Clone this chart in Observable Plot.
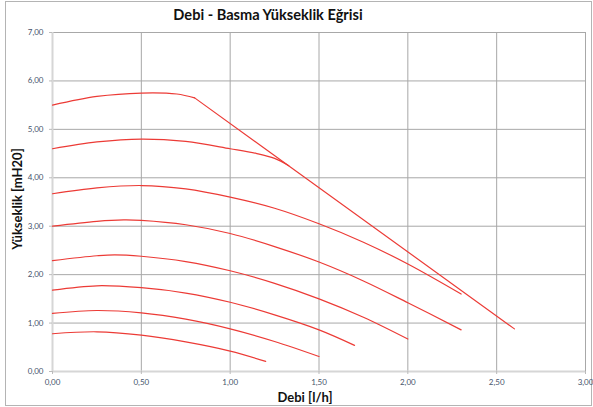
<!DOCTYPE html>
<html>
<head>
<meta charset="utf-8">
<script src="https://cdn.jsdelivr.net/npm/d3@7"></script>
<script src="https://cdn.jsdelivr.net/npm/@observablehq/plot@0.6"></script>
<style>
  body { margin: 0; background: #fff; }
  #wrap { position: relative; width: 593px; height: 407px; overflow: hidden; font-family: Lato, "Open Sans", sans-serif; }
  #frame { position: absolute; left: 5px; top: 1px; width: 587px; height: 405px; border: 1px solid #b4b4b4; box-sizing: border-box; }
  #title { position: absolute; left: 0; top: 3px; width: 536px; text-align: center; font-size: 14.6px; font-weight: bold; color: #111; line-height: 24px; }
  #chart { position: absolute; left: 0; top: 24px; }
</style>
</head>
<body>
<div id="wrap">
  <div id="frame"></div>
  <div id="title"></div>
  <div id="chart"></div>
</div>
<script>
const titleText = "Debi - Basma Yükseklik Eğrisi";
const xLabel = "Debi [l/h]";
const yLabel = "Yükseklik [mH20]";
const xTicks = [0, 0.5, 1, 1.5, 2, 2.5, 3];
const yTicks = [0, 1, 2, 3, 4, 5, 6, 7];

// Pump curves (Debi x, Yükseklik y)
const c1x = [0, 0.25, 0.5, 0.7, 0.8];
const c1y = [5.5, 5.68, 5.75, 5.73, 5.65];
const limX = [0.8, 2.6];
const limY = [5.65, 0.88];
const c2x = [0, 0.25, 0.5, 0.75, 1.0, 1.15, 1.25, 1.33];
const c2y = [4.6, 4.74, 4.8, 4.75, 4.6, 4.5, 4.4, 4.25];
const c3x = [0, 0.25, 0.5, 0.75, 1.0, 1.25, 1.5, 1.75, 2.0, 2.3];
const c3y = [3.67, 3.79, 3.84, 3.77, 3.6, 3.37, 3.05, 2.67, 2.22, 1.6];
const c4x = [0, 0.25, 0.4, 0.5, 0.75, 1.0, 1.25, 1.5, 1.75, 2.0, 2.3];
const c4y = [3.0, 3.1, 3.13, 3.12, 3.03, 2.85, 2.58, 2.26, 1.87, 1.42, 0.86];
const c5x = [0, 0.25, 0.35, 0.5, 0.75, 1.0, 1.25, 1.5, 1.75, 2.0];
const c5y = [2.29, 2.39, 2.41, 2.38, 2.27, 2.08, 1.82, 1.5, 1.12, 0.67];
const c6x = [0, 0.25, 0.5, 0.75, 1.0, 1.25, 1.5, 1.7];
const c6y = [1.68, 1.77, 1.73, 1.62, 1.43, 1.17, 0.86, 0.54];
const c7x = [0, 0.25, 0.5, 0.75, 1.0, 1.25, 1.5];
const c7y = [1.2, 1.26, 1.21, 1.08, 0.88, 0.62, 0.31];
const c8x = [0, 0.25, 0.5, 0.75, 1.0, 1.2];
const c8y = [0.78, 0.82, 0.75, 0.61, 0.42, 0.21];

const curves = [[c1x, c1y], [c2x, c2y], [c3x, c3y], [c4x, c4y], [c5x, c5y], [c6x, c6y], [c7x, c7y], [c8x, c8y]];
const curveData = curves.flatMap(([xs, ys], i) => xs.map((x, j) => ({s: i, x, y: ys[j]})));
const limData = limX.map((x, j) => ({x, y: limY[j]}));

const fmt = d => d3.format(".2f")(d).replace(".", ",");
const red = "#ec3b36";

document.getElementById("title").textContent = titleText;

const chart = Plot.plot({
  width: 593,
  height: 383,
  marginLeft: 52,
  marginRight: 8,
  marginTop: 8,
  marginBottom: 36,
  style: {fontFamily: "Lato, 'Open Sans', sans-serif", background: "transparent"},
  x: {domain: [0, 3]},
  y: {domain: [0, 7]},
  marks: [
    Plot.ruleX(xTicks.filter(d => d > 0), {stroke: "#a8a8a8", strokeWidth: 1}),
    Plot.ruleY(yTicks.filter(d => d > 0), {stroke: "#a8a8a8", strokeWidth: 1}),
    Plot.ruleX([0], {stroke: "#d6d6d6", strokeWidth: 2}),
    Plot.ruleY([0], {stroke: "#d6d6d6", strokeWidth: 2}),
    Plot.axisX(xTicks, {tickSize: 3, tickPadding: 5, tickFormat: fmt, label: null, stroke: "#bbb", fill: "#46546b", fontSize: 8}),
    Plot.axisY(yTicks, {tickSize: 3, tickPadding: 6, tickFormat: fmt, label: null, stroke: "#bbb", fill: "#46546b", fontSize: 8}),
    Plot.line(curveData, {x: "x", y: "y", z: "s", stroke: red, strokeWidth: 1.2, curve: "catmull-rom"}),
    Plot.line(limData, {x: "x", y: "y", stroke: red, strokeWidth: 1.2}),
    Plot.text([xLabel], {frameAnchor: "bottom", dy: 30, dx: -14, text: d => d, fontSize: 13, fontWeight: "bold", fill: "#111"}),
    Plot.text([yLabel], {frameAnchor: "left", textAnchor: "middle", dx: -35, dy: -3, rotate: -90, text: d => d, fontSize: 13, fontWeight: "bold", fill: "#111"})
  ]
});
document.getElementById("chart").appendChild(chart);
</script>
</body>
</html>
